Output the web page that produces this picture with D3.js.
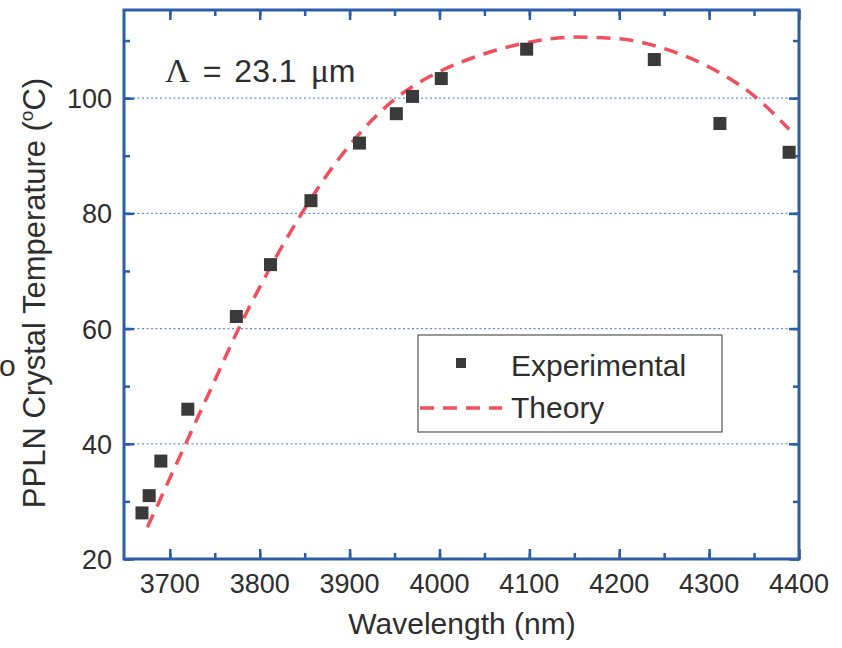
<!DOCTYPE html>
<html>
<head>
<meta charset="utf-8">
<script src="https://cdn.jsdelivr.net/npm/d3@7"></script>
<style>
  body { margin: 0; background: #fff; }
  svg { display: block; font-family: "Liberation Sans", Arial, sans-serif; }
</style>
</head>
<body>
<div id="chart"></div>
<script>
// experimental points: wavelength (nm), temperature (C)
const expWave = [3669, 3677, 3690, 3720, 3774, 3812, 3857, 3911, 3952, 3970, 4002, 4097, 4239, 4312, 4389]
const expTemp = [28, 31, 37, 46, 62.1, 71.1, 82.2, 92.2, 97.3, 100.3, 103.4, 108.5, 106.7, 95.6, 90.6]

// theory curve
const thWave = [3675, 3700, 3725, 3750, 3775, 3800, 3825, 3850, 3875, 3900, 3925, 3950, 3975, 4000, 4050, 4100, 4150, 4200, 4250, 4300, 4350, 4389]
const thTemp = [25.5, 34, 42.5, 51, 59.5, 67.2, 74.3, 80.8, 86.7, 91.8, 96.2, 99.8, 102.5, 104.6, 107.7, 109.7, 110.6, 110.3, 108.6, 105.4, 100.4, 94.6]

const xTicks = [3700, 3800, 3900, 4000, 4100, 4200, 4300, 4400]
const yTicks = [20, 40, 60, 80, 100]
const gridVals = [40, 60, 80, 100]

const margin = {top:10, right:43, bottom:89, left:124},
  width = 842 - margin.left - margin.right,
  height = 648 - margin.top - margin.bottom;

const x = d3.scaleLinear().domain([3649, 4400]).range([0, width])
const y = d3.scaleLinear().domain([20, 115.3]).range([height, 0])

const axisBlue = "#2c5ea8"
const textCol = "#2e2e2e"

const svg = d3.select("#chart")
  .append("svg")
    .attr("width", width + margin.left + margin.right)
    .attr("height", height + margin.top + margin.bottom)
  .append("g")
    .attr("transform","translate(" + margin.left + "," + margin.top + ")");

// dotted grid
svg.selectAll(null)
  .data(gridVals)
  .enter()
  .append("line")
  .attr("x1", 0)
  .attr("x2", width)
  .attr("y1", d=>y(d))
  .attr("y2", d=>y(d))
  .style("stroke", "#5f8fdc")
  .style("stroke-width", 1.2)
  .style("stroke-dasharray", "2,2.5")

// inward ticks on all four sides
function ticks(gen, vals, size, tr){
  const g = svg.append("g")
  if (tr) g.attr("transform", tr)
  g.call(gen.tickValues(vals).tickSize(size).tickFormat(''))
  g.select(".domain").remove()
  g.selectAll("line").style("stroke", axisBlue).style("stroke-width", 2.5)
}
const xMinor = d3.range(3700, 4400, 50)
const yMinor = d3.range(20, 115, 10)
ticks(d3.axisTop(x), xTicks, 10, "translate(0," + height + ")")
ticks(d3.axisTop(x), xMinor, 6, "translate(0," + height + ")")
ticks(d3.axisBottom(x), xTicks, 10)
ticks(d3.axisBottom(x), xMinor, 6)
ticks(d3.axisRight(y), yTicks, 10)
ticks(d3.axisRight(y), yMinor, 6)
ticks(d3.axisLeft(y), yTicks, 10, "translate(" + width + ",0)")
ticks(d3.axisLeft(y), yMinor, 6, "translate(" + width + ",0)")

// frame
svg.append("rect")
  .attr("width", width)
  .attr("height", height)
  .style("fill", "none")
  .style("stroke", axisBlue)
  .style("stroke-width", 3)

// tick labels
svg.selectAll(null)
  .data(xTicks)
  .enter()
  .append("text")
  .attr("x", d=>x(d))
  .attr("y", height + 34)
  .attr("text-anchor", "middle")
  .style("font-size", "27px")
  .style("fill", textCol)
  .text(d=>d)
svg.selectAll(null)
  .data(yTicks)
  .enter()
  .append("text")
  .attr("x", -12)
  .attr("y", d=>y(d) + 10)
  .attr("text-anchor", "end")
  .style("font-size", "27px")
  .style("fill", textCol)
  .text(d=>d)

// axis titles
svg.append("text")
  .attr("x", 338)
  .attr("y", height + 75)
  .attr("text-anchor", "middle")
  .style("font-size", "30px")
  .style("fill", textCol)
  .text("Wavelength (nm)")
svg.append("text")
  .attr("transform", "translate(-79," + 283 + ") rotate(-90)")
  .attr("text-anchor", "middle")
  .style("font-size", "31px")
  .style("fill", textCol)
  .html('PPLN Crystal Temperature (<tspan dy="-12" font-size="19px">o</tspan><tspan dy="12">C)</tspan>')
svg.append("text")
  .attr("x", -125)
  .attr("y", 366)
  .style("font-size", "30px")
  .style("fill", textCol)
  .text("o")

// period label
svg.append("text")
  .attr("x", 41)
  .attr("y", 72)
  .style("font-size", "32px")
  .style("fill", textCol)
  .html('<tspan font-family="Liberation Serif, serif" font-size="34px">Λ</tspan><tspan dx="13">=</tspan><tspan dx="13">23.1</tspan><tspan dx="14" font-family="Liberation Serif, serif" font-size="34px">μ</tspan>m')

// theory curve
const line = d3.line()
  .x((d,i)=>x(thWave[i]))
  .y(d=>y(d))
  .curve(d3.curveMonotoneX)
svg.append("path")
  .datum(thTemp)
  .attr("d", line)
  .style("fill", "none")
  .style("stroke", "#f0505e")
  .style("stroke-width", 3.5)
  .style("stroke-dasharray", "14,9")

// experimental squares
svg.selectAll(null)
  .data(expTemp)
  .enter()
  .append("rect")
  .attr("x", (d,i)=>x(expWave[i]) - 6.5)
  .attr("y", d=>y(d) - 6.5)
  .attr("width", 13)
  .attr("height", 13)
  .style("fill", "#3a3a3a")

// legend
const leg = svg.append("g").attr("transform", "translate(294,325)")
leg.append("rect")
  .attr("width", 304)
  .attr("height", 97)
  .style("fill", "#fff")
  .style("stroke", "#555")
  .style("stroke-width", 1.2)
leg.append("rect")
  .attr("x", 38).attr("y", 23)
  .attr("width", 10).attr("height", 10)
  .style("fill", "#3a3a3a")
leg.append("text")
  .attr("x", 93).attr("y", 41)
  .style("font-size", "30px")
  .style("fill", textCol)
  .text("Experimental")
leg.append("line")
  .attr("x1", 2).attr("x2", 84)
  .attr("y1", 73).attr("y2", 73)
  .style("stroke", "#f0505e")
  .style("stroke-width", 3.5)
  .style("stroke-dasharray", "14,9")
leg.append("text")
  .attr("x", 93).attr("y", 83)
  .style("font-size", "30px")
  .style("fill", textCol)
  .text("Theory")
</script>
</body>
</html>
